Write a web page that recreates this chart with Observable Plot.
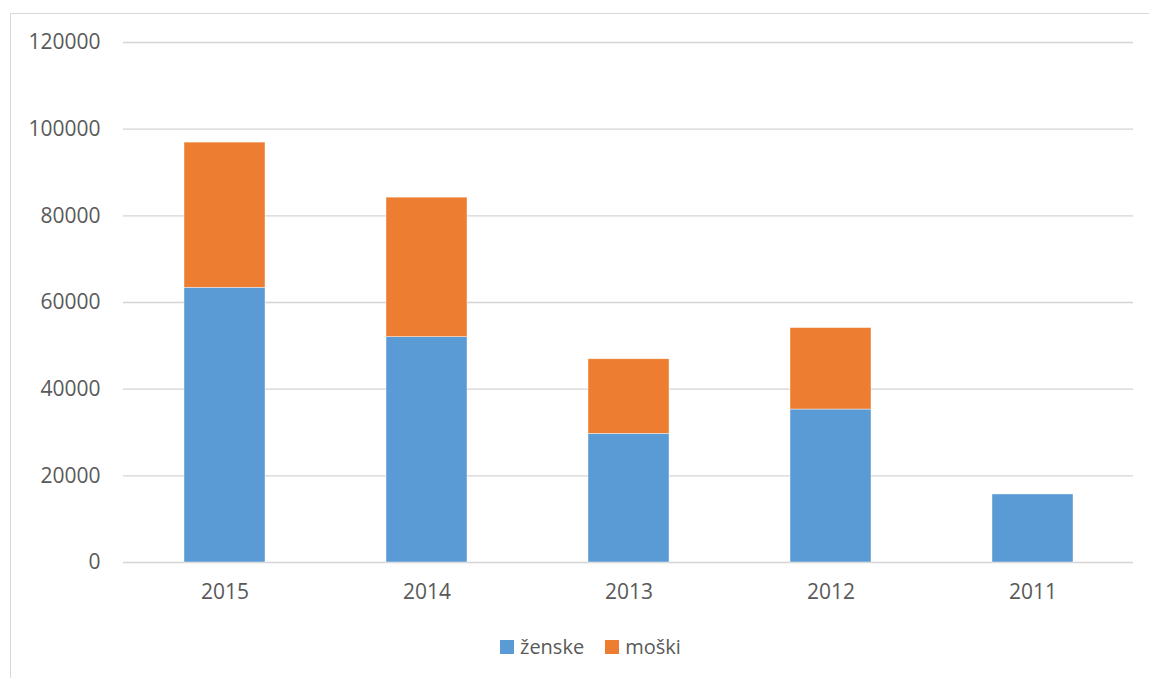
<!DOCTYPE html>
<html>
<head>
<meta charset="utf-8">
<script src="https://cdn.jsdelivr.net/npm/d3@7"></script>
<script src="https://cdn.jsdelivr.net/npm/@observablehq/plot@0.6"></script>
<style>
  html, body { margin: 0; padding: 0; background: #fff; }
  #wrap { position: relative; width: 1149px; height: 678px; overflow: hidden; font-family: "Open Sans", sans-serif; }
  #frame { position: absolute; left: 10px; top: 13px; width: 1300px; height: 800px; border-left: 1px solid #d9d9d9; border-top: 1px solid #d9d9d9; }
  #chart { position: absolute; left: 0; top: 0; }
  #legend { position: absolute; left: 500px; top: 633px; display: flex; align-items: center; font-size: 20px; color: #595959; }
  .sw { width: 14px; height: 14px; display: inline-block; margin-right: 6px; }
  .item { display: flex; align-items: center; margin-right: 21px; }
</style>
</head>
<body>
<div id="wrap">
  <div id="frame"></div>
  <div id="chart"></div>
  <div id="legend"></div>
</div>
<script>
const years = ["2015", "2014", "2013", "2012", "2011"];
const zenske = [63400, 52000, 29700, 35300, 15700];
const moski = [33500, 32200, 17200, 18800, 0];
const seriesNames = ["ženske", "moški"];
const seriesColors = ["#5B9BD5", "#ED7D31"];
const yTicks = [0, 20000, 40000, 60000, 80000, 100000, 120000];

const data = [];
years.forEach((y, i) => {
  data.push({year: y, series: seriesNames[0], value: zenske[i]});
  data.push({year: y, series: seriesNames[1], value: moski[i]});
});

const plot = Plot.plot({
  width: 1149,
  height: 620,
  marginTop: 42,
  marginBottom: 58,
  marginLeft: 123,
  marginRight: 16,
  style: {fontFamily: "'Open Sans', sans-serif", fontSize: "21px", color: "#595959", background: "transparent"},
  x: {domain: years, label: null, paddingInner: 0.6, paddingOuter: 0.3, tickSize: 0, tickPadding: 23},
  y: {domain: [0, 120000], ticks: yTicks, label: null, tickSize: 0, tickPadding: 23, tickFormat: d => String(d)},
  color: {domain: seriesNames, range: seriesColors},
  marks: [
    Plot.gridY(yTicks, {stroke: "#d4d4d4", strokeOpacity: 1, strokeWidth: 1.4}),
    Plot.barY(data, Plot.stackY({x: "year", y: "value", fill: "series", order: seriesNames, stroke: "#ffffff", strokeWidth: 0.6, strokeOpacity: 0.7})),
    Plot.axisX({tickSize: 0, tickPadding: 22, label: null, fill: "#595959"}),
    Plot.axisY(yTicks, {tickSize: 0, tickPadding: 23, label: null, fill: "#595959", tickFormat: d => String(d)})
  ]
});
document.getElementById("chart").appendChild(plot);

const legend = document.getElementById("legend");
seriesNames.forEach((name, i) => {
  const item = document.createElement("div");
  item.className = "item";
  const sw = document.createElement("span");
  sw.className = "sw";
  sw.style.background = seriesColors[i];
  const t = document.createElement("span");
  t.textContent = name;
  item.appendChild(sw);
  item.appendChild(t);
  legend.appendChild(item);
});
</script>
</body>
</html>
